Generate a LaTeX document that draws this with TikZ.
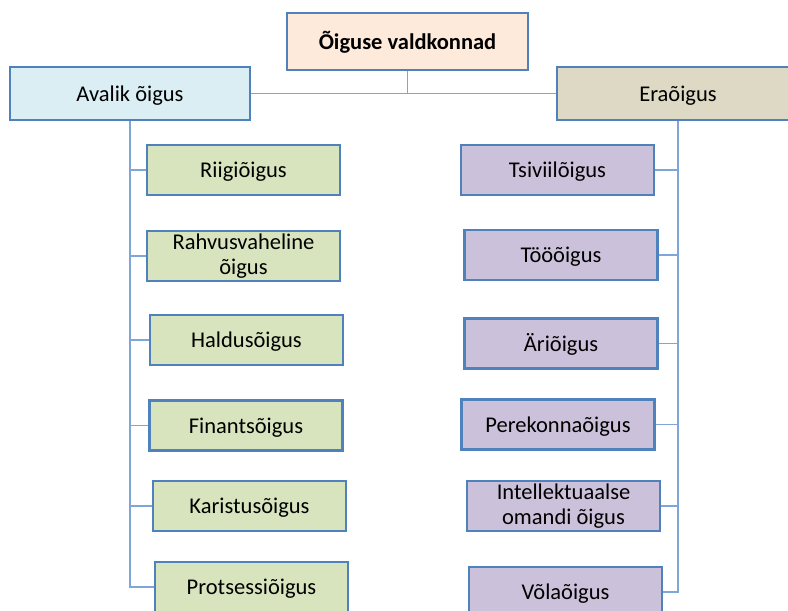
\documentclass[tikz,border=0pt]{standalone}
\usepackage{fontspec}
\setmainfont{Carlito}
\definecolor{bordc}{HTML}{4F81BD}
\definecolor{linec}{HTML}{7EA6D9}
\definecolor{topc}{HTML}{FDEADA}
\definecolor{pubc}{HTML}{DBEEF4}
\definecolor{privc}{HTML}{DDD9C4}
\definecolor{greenc}{HTML}{D7E4BD}
\definecolor{purc}{HTML}{CCC1DA}
\tikzset{
  box/.style={draw=bordc, line width=2.6pt, inner sep=0pt, align=center,
    font=\fontsize{22.5}{25}\selectfont, text=black},
  oneline/.style={text height=18pt, text depth=3pt},
  pubbox/.style={box, fill=greenc, minimum width=193pt, minimum height=50pt},
  privbox/.style={box, fill=purc, minimum width=193pt, minimum height=50pt},
  conn/.style={draw=linec, line width=1.8pt}
}
\begin{document}
\begin{tikzpicture}[x=1pt,y=-1pt]
\useasboundingbox (0,0) rectangle (788,611);
\node[box, oneline, fill=topc, minimum width=241pt, minimum height=57pt, font=\fontsize{22.5}{25}\selectfont\bfseries] (top) at (407.5,41.5) {Õiguse valdkonnad};
\node[box, oneline, fill=pubc, minimum width=240pt, minimum height=53pt] (avalik) at (130,93.5) {Avalik õigus};
\node[box, oneline, fill=privc, minimum width=242pt, minimum height=53pt] (era) at (678,93.5) {Eraõigus};

\node[pubbox, oneline] (l1) at (243.5,170) {Riigiõigus};
\node[pubbox] (l2) at (243.5,256) {Rahvusvaheline\\õigus};
\node[pubbox, oneline] (l3) at (246.5,340) {Haldusõigus};
\node[pubbox, oneline] (l4) at (246,425.5) {Finantsõigus};
\node[pubbox, oneline] (l5) at (249.5,506) {Karistusõigus};
\node[pubbox, oneline] (l6) at (251.5,587) {Protsessiõigus};

\node[privbox, oneline] (r1) at (557.5,170) {Tsiviilõigus};
\node[privbox, oneline] (r2) at (561,255) {Tööõigus};
\node[privbox, oneline] (r3) at (561,343.5) {Äriõigus};
\node[privbox, oneline] (r4) at (558,424.5) {Perekonnaõigus};
\node[privbox] (r5) at (563.5,506) {Intellektuaalse\\omandi õigus};
\node[privbox, oneline] (r6) at (565.5,592) {Võlaõigus};

\path[conn] (avalik.east) -- (era.west);
\path[conn] (top.south) -- (top.south |- avalik.east);
\foreach \n in {l1,l2,l3,l4,l5,l6} { \path[conn] (avalik.south) |- (\n.west); }
\foreach \n in {r1,r2,r3,r4,r5,r6} { \path[conn] (era.south) |- (\n.east); }
\end{tikzpicture}
\end{document}
